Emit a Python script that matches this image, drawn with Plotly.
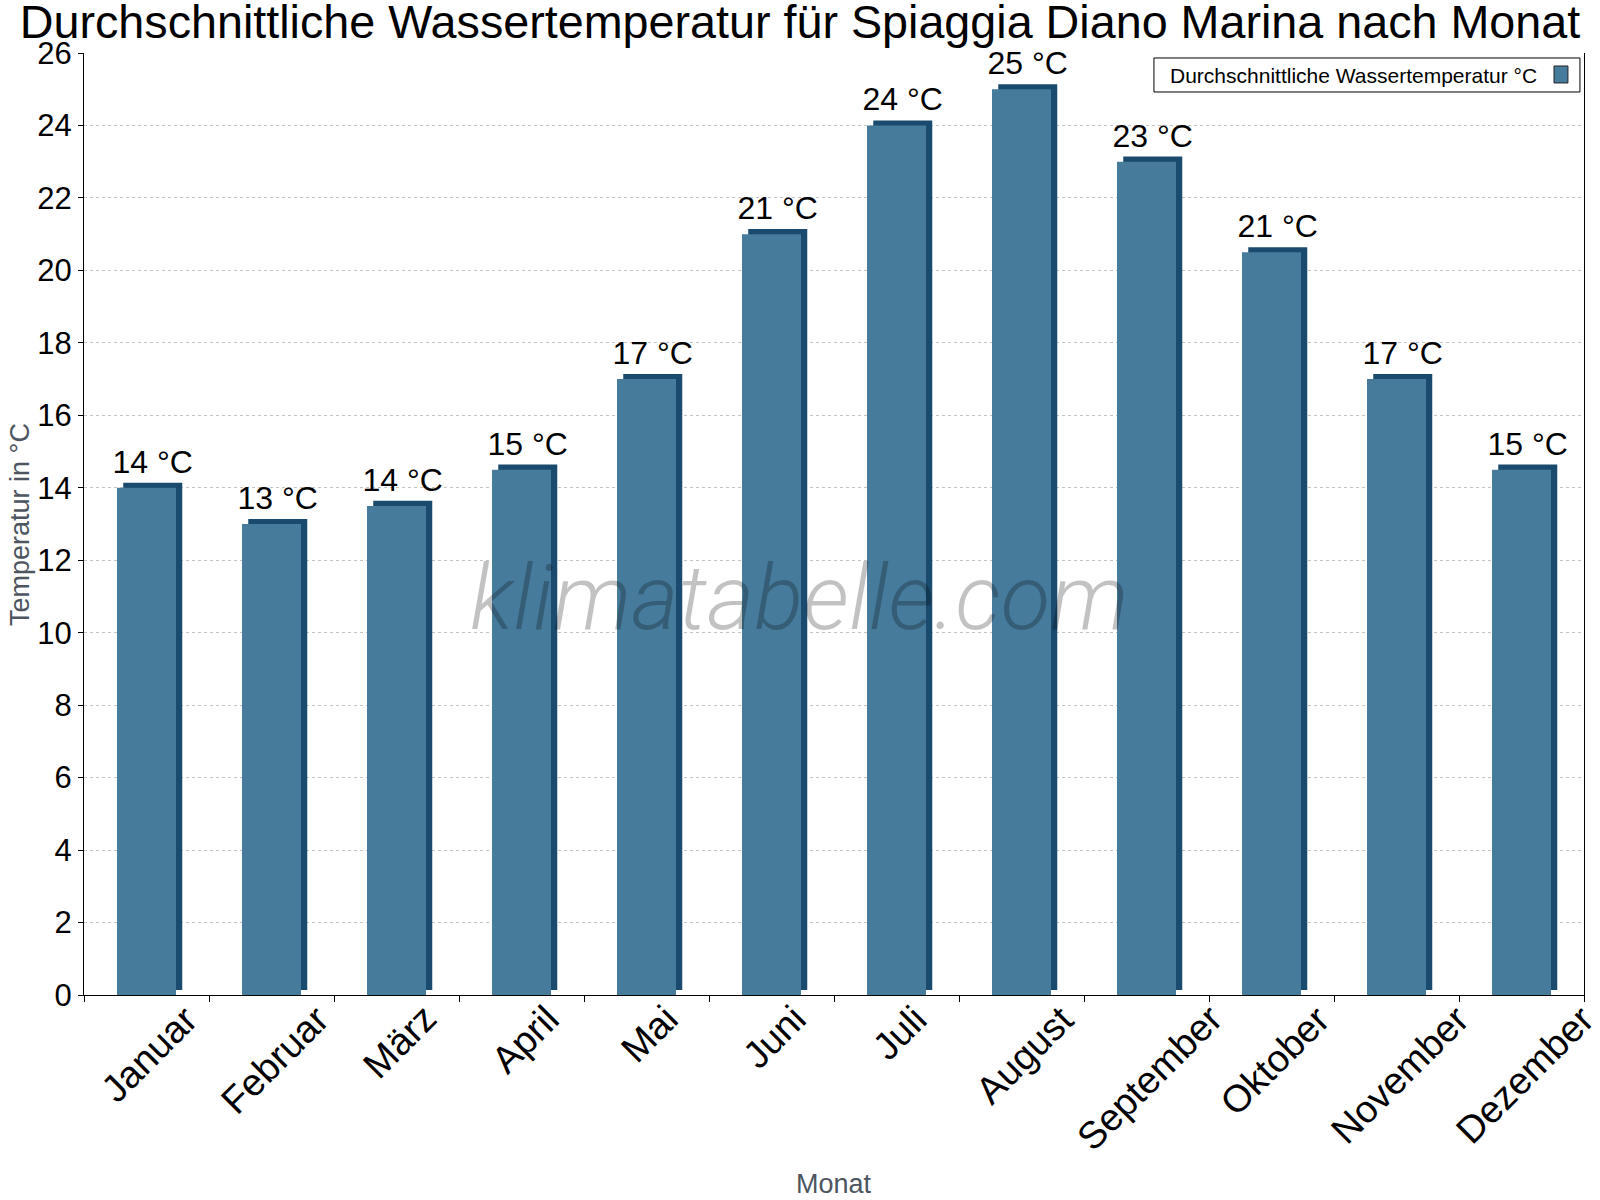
import plotly.graph_objects as go

months = ["Januar", "Februar", "März", "April", "Mai", "Juni", "Juli",
          "August", "September", "Oktober", "November", "Dezember"]
water_temp = [14, 13, 13.5, 14.5, 17, 21, 24, 25, 23, 20.5, 17, 14.5]
labels = ["14 °C", "13 °C", "14 °C", "15 °C", "17 °C", "21 °C", "24 °C",
          "25 °C", "23 °C", "21 °C", "17 °C", "15 °C"]
series_name = "Durchschnittliche Wassertemperatur °C"

front = "#467b9c"
side = "#1a4a6d"
font = "Arial, Liberation Sans, sans-serif"
depth = 0.14  # height of the fake 3d top face, in °C

fig = go.Figure()

# dark bar behind, shifted right/up, shows as top and right face
fig.add_trace(go.Bar(
    x=months, y=water_temp, base=depth, width=0.472, offset=-0.186,
    marker=dict(color=side, line=dict(width=0)),
    text=labels, textposition="outside", constraintext="none", cliponaxis=False,
    textfont=dict(family=font, size=32, color="black"),
    hoverinfo="skip", showlegend=False,
))
fig.add_trace(go.Bar(
    x=months, y=water_temp, width=0.472, offset=-0.236,
    marker=dict(color=front, line=dict(width=0)),
    name=series_name, showlegend=False,
))

fig.update_layout(
    width=1600, height=1200,
    barmode="overlay",
    plot_bgcolor="white", paper_bgcolor="white",
    margin=dict(l=84, r=16, t=53, b=205, autoexpand=False),
    title=dict(text="Durchschnittliche Wassertemperatur für Spiaggia Diano Marina nach Monat",
               x=0.5, xanchor="center", y=0.982, yanchor="middle",
               font=dict(family=font, size=46.7, color="black")),
    font=dict(family=font),
    xaxis=dict(
        type="category", tickson="boundaries", ticks="outside", ticklen=6,
        tickcolor="black", showline=True, linecolor="black", linewidth=1,
        showticklabels=False, showgrid=False, range=[-0.5, 11.5],
    ),
    yaxis=dict(
        range=[0, 26], dtick=2, ticks="outside", ticklen=5, tickcolor="black",
        showline=True, linecolor="black", linewidth=1, mirror=True,
        tickfont=dict(family=font, size=31, color="black"),
        showgrid=True, gridcolor="#c4c4c4", griddash="dot", gridwidth=1,
        zeroline=False,
    ),
)

# month labels: rotated, box centred under each category
for m in months:
    fig.add_annotation(text=m, x=m, xref="x", yref="paper", y=0.0,
                       xanchor="center", yanchor="top", textangle=-45, xshift=3,
                       showarrow=False, font=dict(family=font, size=38, color="black"))

# axis titles
fig.add_annotation(text="Monat", xref="paper", yref="paper", x=0.5, y=-0.219,
                   xanchor="center", yanchor="bottom",
                   showarrow=False, font=dict(family=font, size=27, color="#4d5560"))
fig.add_annotation(text="Temperatur in °C", xref="paper", yref="paper", x=-0.0427, y=0.5,
                   xanchor="center", yanchor="middle", textangle=-90, showarrow=False,
                   font=dict(family=font, size=27, color="#4d5560"))

# watermark
fig.add_annotation(
    text="klimatabelle.com", xref="paper", yref="paper", x=0.477, y=0.421,
    showarrow=False,
    font=dict(family="Roboto", size=91, color="rgba(0,0,0,0.24)", weight=300, style="italic"),
)

# legend box, key on the right side
fig.add_shape(type="rect", xref="paper", yref="paper", x0=0.7133, x1=0.9973, y0=0.9586, y1=0.9947,
              line=dict(color="black", width=1), fillcolor="white", layer="above")
fig.add_shape(type="rect", xref="paper", yref="paper", x0=0.98, x1=0.9893, y0=0.9682, y1=0.9862,
              line=dict(color="#222222", width=1), fillcolor=front, layer="above")
fig.add_annotation(text=series_name, xref="paper", yref="paper", x=0.7227, y=0.9766,
                   xanchor="left", yanchor="middle", showarrow=False,
                   font=dict(family=font, size=21, color="black"))

fig.write_html("out.html", config={"displayModeBar": False},
               post_script="document.body.style.margin='0';document.body.style.overflow='hidden';")
